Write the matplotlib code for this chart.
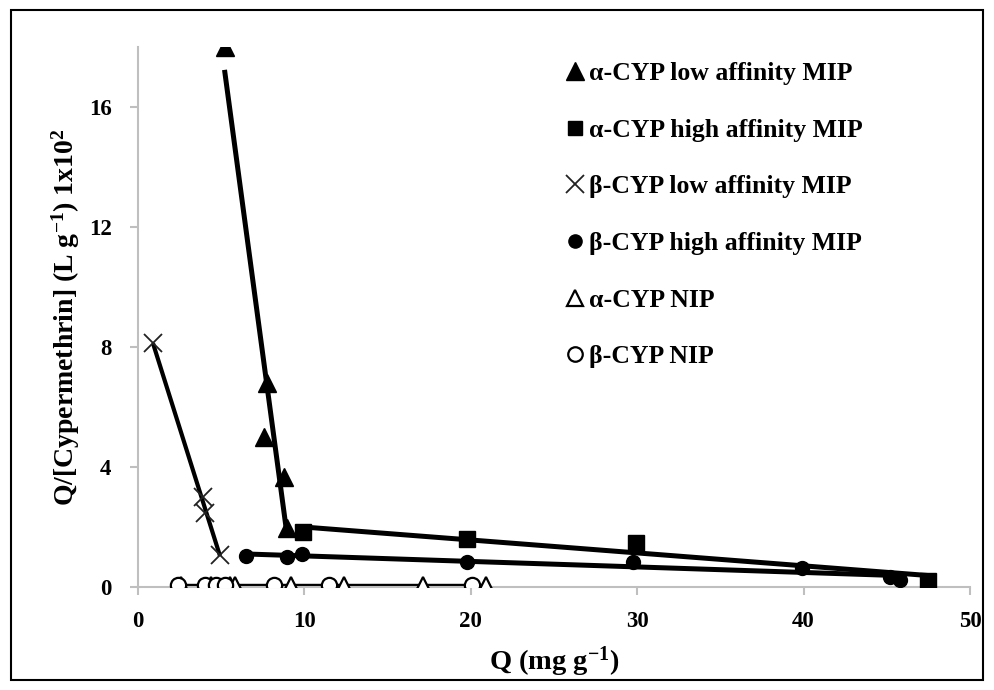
import numpy as np
import matplotlib
matplotlib.use("Agg")
import matplotlib.pyplot as plt
from matplotlib.patches import Rectangle

plt.rcParams['font.family'] = ['Liberation Serif', 'DejaVu Serif']
plt.rcParams['font.weight'] = 'bold'
plt.rcParams['mathtext.fontset'] = 'custom'
plt.rcParams['mathtext.rm'] = 'Liberation Serif:bold'
plt.rcParams['mathtext.it'] = 'Liberation Serif:bold'
plt.rcParams['mathtext.bf'] = 'Liberation Serif:bold'

# Data
a_low_x = [5.2, 7.75, 7.6, 8.8, 8.95]
a_low_y = [18.0, 6.8, 5.0, 3.67, 1.97]

a_high_x = [9.9, 19.8, 29.9, 47.5]
a_high_y = [1.83, 1.6, 1.47, 0.2]

b_low_x = [0.9, 3.9, 4.0, 4.93]
b_low_y = [8.13, 3.0, 2.47, 1.07]

b_high_x = [6.5, 8.95, 9.85, 19.8, 29.75, 39.9, 45.2, 45.8]
b_high_y = [1.03, 1.0, 1.1, 0.83, 0.83, 0.63, 0.33, 0.23]

a_nip_x = [2.6, 4.4, 5.5, 5.8, 9.2, 12.4, 17.1, 20.9]
a_nip_y = [0.06, 0.06, 0.06, 0.06, 0.06, 0.06, 0.06, 0.06]

b_nip_x = [2.4, 4.0, 4.7, 5.2, 8.2, 11.5, 20.1]
b_nip_y = [0.06, 0.06, 0.06, 0.06, 0.06, 0.06, 0.06]

labels = ["α-CYP low affinity MIP", "α-CYP high affinity MIP",
          "β-CYP low affinity MIP", "β-CYP high affinity MIP",
          "α-CYP NIP", "β-CYP NIP"]

x_ticks = [0, 10, 20, 30, 40, 50]
y_ticks = [0, 4, 8, 12, 16]

fig = plt.figure(figsize=(9.94, 6.9), dpi=100)
ax = fig.add_axes([138/994, 1-587/690, (970-138)/994, (587-47)/690])

def fit_line(x, y, lw, zorder=2):
    x = np.asarray(x); y = np.asarray(y)
    m, b = np.polyfit(x, y, 1)
    xs = np.array([x.min(), x.max()])
    ax.plot(xs, m*xs + b, color='black', lw=lw, zorder=zorder, solid_capstyle='butt')

fit_line(a_low_x, a_low_y, 3.6)
fit_line(a_high_x, a_high_y, 3.6)
fit_line(b_low_x, b_low_y, 3.0)
fit_line(b_high_x, b_high_y, 3.6)
fit_line(a_nip_x, a_nip_y, 1.6)
fit_line(b_nip_x, b_nip_y, 1.6)

h1, = ax.plot(a_low_x, a_low_y, ls='none', marker='^', ms=13, color='black', zorder=3)
h2, = ax.plot(a_high_x, a_high_y, ls='none', marker='s', ms=11, color='black', zorder=3)
h3, = ax.plot(b_low_x, b_low_y, ls='none', marker='x', ms=13, mew=1.3, color='#222222', zorder=3)
h4, = ax.plot(b_high_x, b_high_y, ls='none', marker='o', ms=10, color='black', zorder=3)
h5, = ax.plot(a_nip_x, a_nip_y, ls='none', marker='^', ms=12, mfc='white', mec='black', mew=1.6, zorder=3)
h6, = ax.plot(b_nip_x, b_nip_y, ls='none', marker='o', ms=11, mfc='white', mec='black', mew=1.6, zorder=3)

ax.set_xlim(0, 50)
ax.set_ylim(0, 18)
ax.set_xticks(x_ticks)
ax.set_yticks(y_ticks)
for s in ['top', 'right']:
    ax.spines[s].set_visible(False)
for s in ['left', 'bottom']:
    ax.spines[s].set_color('#bfbfbf')
    ax.spines[s].set_linewidth(1.5)
ax.tick_params(axis='both', colors='#bfbfbf', length=6, width=1.5, labelcolor='black', labelsize=16.5)
ax.tick_params(axis='y', pad=13)
ax.tick_params(axis='x', pad=11)
for t in ax.get_xticklabels() + ax.get_yticklabels():
    t.set_fontweight('bold')

ax.set_xlabel('Q (mg g$^{-1}$)', fontsize=20.5, fontweight='bold', labelpad=9)
ax.set_ylabel('Q/[Cypermethrin] (L g$^{-1}$) 1x10$^{2}$', fontsize=20, fontweight='bold', labelpad=5)

leg = fig.legend([h1, h2, h3, h4, h5, h6], labels, loc='upper left',
                 bbox_to_anchor=(545/994, 1-39/690), frameon=False,
                 prop={'family': 'Liberation Serif', 'weight': 'bold', 'size': 18.5},
                 handlelength=0.55, handletextpad=0.25, labelspacing=1.31, markerscale=0.95)

fig.patches.append(Rectangle((11/994, 10/690), (983-11)/994, (680-10)/690,
                             transform=fig.transFigure, fill=False, edgecolor='black', lw=1.5))

fig.savefig('out.png', dpi=100)
